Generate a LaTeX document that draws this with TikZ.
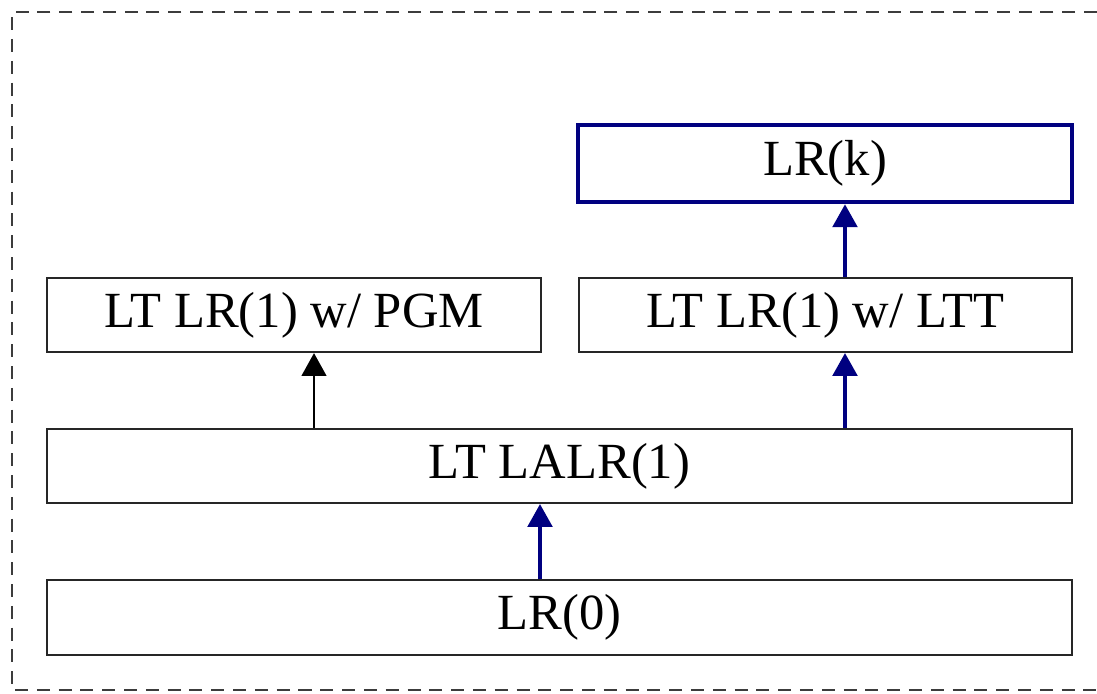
\documentclass[tikz,border=0pt]{standalone}
\usepackage{fontspec}
\setmainfont{Liberation Serif}
\usetikzlibrary{arrows.meta}

\definecolor{navy}{RGB}{0,0,128}
\definecolor{frame}{RGB}{60,60,60}

\begin{document}
\begin{tikzpicture}[x=0.01cm,y=-0.01cm,
	box/.style={draw=black!85,line width=0.6pt,inner sep=0pt,minimum height=0.74cm,font=\fontsize{14.4}{17}\selectfont},
	hi/.style={draw=navy,line width=1.3pt},
	up/.style={-{Triangle[length=6.5pt,width=7pt]},line width=0.7pt},
	upblue/.style={up,draw=navy,fill=navy,line width=1pt}]
	\useasboundingbox (0,0) rectangle (1097,693);
	% Frame
	\draw[frame,line width=0.7pt,dash pattern=on 3.7pt off 2.5pt] (1097,12) -- (12,12) -- (12,690) -- (1097,690);
	% Boxes
	\node[box,hi,minimum width=4.94cm,minimum height=0.77cm] (lrk) at (825,163.5) {LR(k)};
	\node[box,minimum width=4.94cm] (pgm) at (294,315) {LT LR(1) w/ PGM};
	\node[box,minimum width=4.93cm] (ltt) at (825.5,315) {LT LR(1) w/ LTT};
	\node[box,minimum width=10.25cm] (lalr) at (559.5,466) {LT LALR(1)};
	\node[box,minimum width=10.25cm,minimum height=0.75cm] (lr0) at (559.5,617.5) {LR(0)};
	% Arrows
	\coordinate (ca) at (314,0);
	\coordinate (cb) at (845,0);
	\coordinate (cc) at (540,0);
	\draw[up] (lalr.north -| ca) -- (pgm.south -| ca);
	\draw[upblue] (lalr.north -| cb) -- (ltt.south -| cb);
	\draw[upblue] (ltt.north -| cb) -- (lrk.south -| cb);
	\draw[upblue] (lr0.north -| cc) -- (lalr.south -| cc);
\end{tikzpicture}
\end{document}
